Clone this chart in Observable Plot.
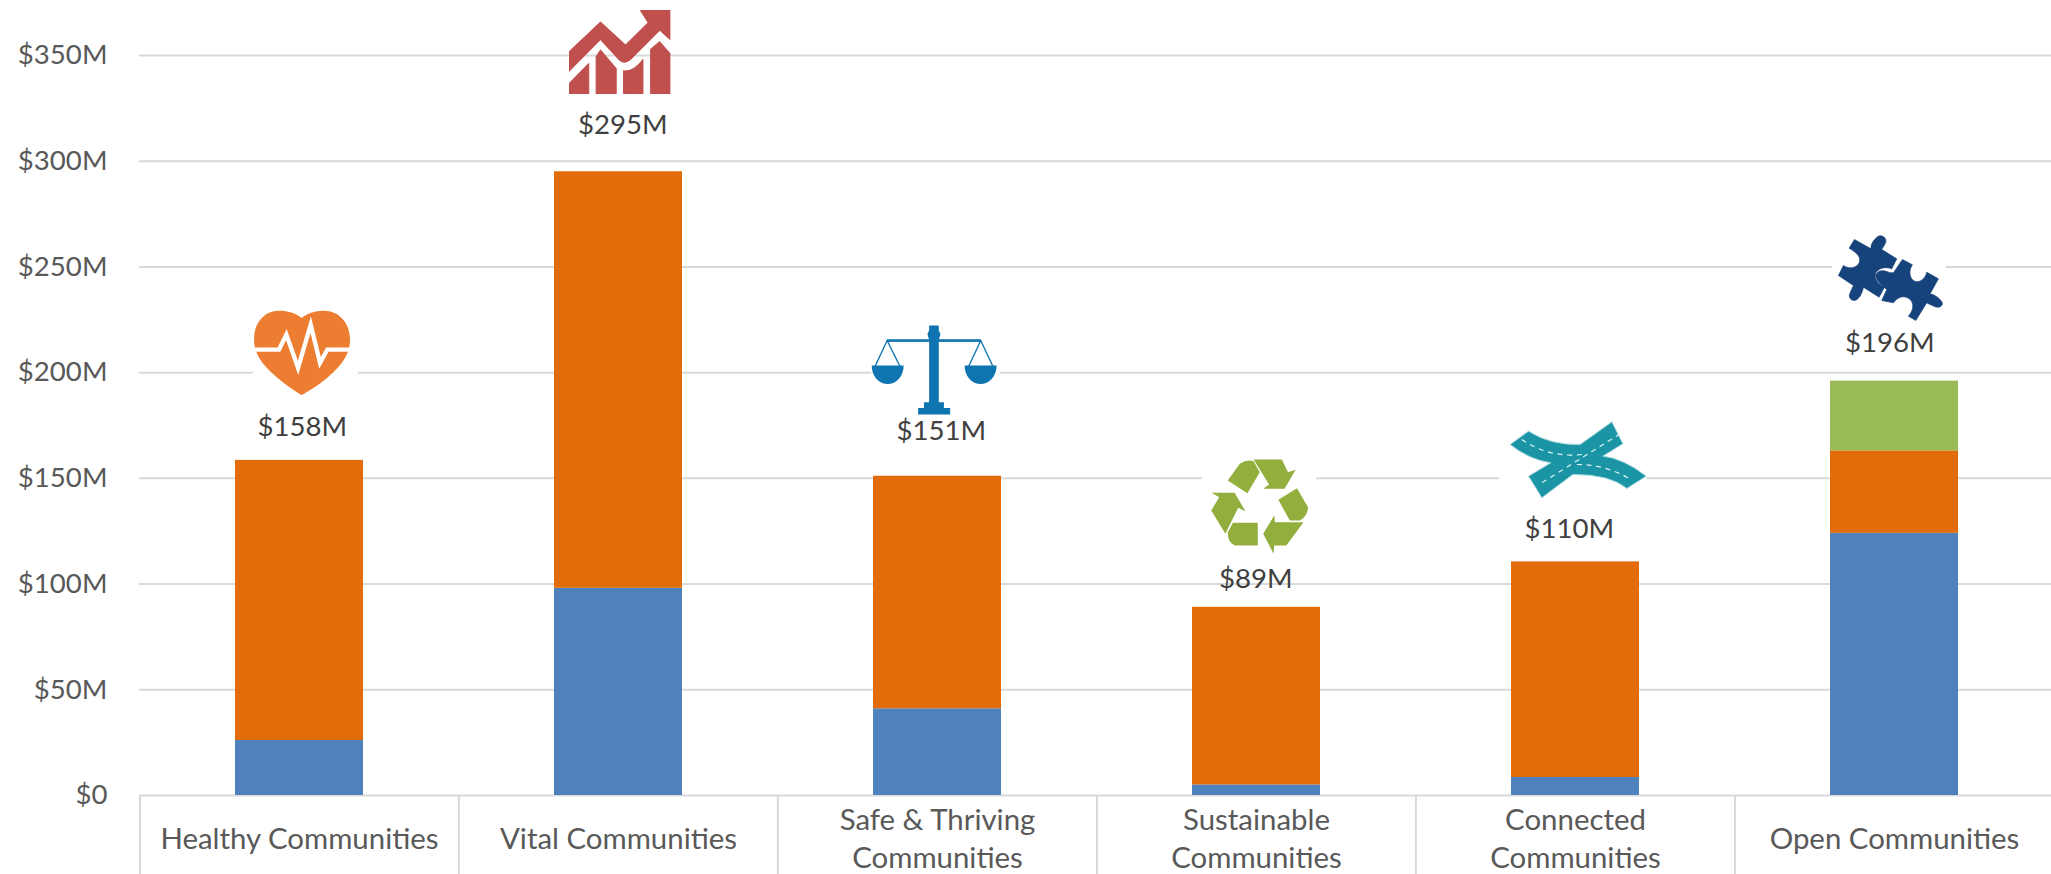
<!DOCTYPE html>
<html><head><meta charset="utf-8">
<script src="https://cdn.jsdelivr.net/npm/d3@7"></script>
<script src="https://cdn.jsdelivr.net/npm/@observablehq/plot@0.6"></script>
<style>html,body{margin:0;padding:0;background:#fff;overflow:hidden}svg{display:block}</style>
</head><body><div id="chart"></div>
<script>
const categories = ["Healthy Communities","Vital Communities","Safe & Thriving\nCommunities","Sustainable\nCommunities","Connected\nCommunities","Open Communities"];
const blueValues = [26,98,41,5,8.5,124];
const orangeValues = [132.5,197,110,84,102,39];
const greenValues = [0,0,0,0,0,33];
const totalLabels = ["$158M","$295M","$151M","$89M","$110M","$196M"];
const yTicks = [0,50,100,150,200,250,300,350];
const seriesNames = ["Series A","Series B","Series C"];
const seriesColors = ["#4f81bd","#e36c0a","#9bbb59"];

const rows = seriesNames.flatMap((s,k)=>categories.map((c,i)=>({c,s,v:[blueValues,orangeValues,greenValues][k][i]})));
const summary = categories.map((c,i)=>({c,t:blueValues[i]+orangeValues[i]+greenValues[i],label:totalLabels[i]}));

const uri = s => "data:image/svg+xml;charset=utf-8,"+encodeURIComponent(s);
const svg = (vb,w,h,body,bg=true)=>uri(`<svg xmlns="http://www.w3.org/2000/svg" width="${w}" height="${h}" viewBox="${vb}" preserveAspectRatio="none">${bg?`<rect x="-9999" y="-9999" width="29999" height="29999" fill="#fff"/>`:""}${body}</svg>`);

const icons = [
 {w:105,h:93,dx:5.7,dy:-107.5,vb:"96 915 315 280",body:`<path fill="#ed7d31" d="M243 950C225 935 200 928 175 928C130 928 100 965 100 1015C100 1065 135 1100 170 1130C200 1155 225 1172 243 1182C261 1172 290 1155 320 1130C355 1100 388 1065 388 1015C388 965 355 928 310 928C285 928 261 935 243 950Z"/><path fill="none" stroke="#fff" stroke-width="13" d="M100 1045H175L197 1000L232 1100L270 970L298 1085L320 1045H388"/>`},
 {w:102,h:85,dx:1.2,dy:-120,bg:false,vb:"40 28 305 254",body:`<g fill="#c0504d" stroke="#c0504d" stroke-width="3" stroke-linejoin="round"><path d="M41 155L135 66L210 135L278 68L255 32H343V118L312 90L225 178Q205 195 190 178L135 118L41 213Z"/><path d="M41 250L100 190V280H41Z"/><path d="M122 170L135 150L182 205V280H122Z"/><path d="M204 212Q235 215 262 178V280H204Z"/><path d="M285 148L312 125L343 160V280H285Z"/></g>`},
 {w:128.4,h:91.7,dx:-2,dy:-106.5,vb:"89 70 373 275",body:`<g fill="#0f75b1"><path d="M257 75H285V90L290 100L285 118V305H300V322H318V342H225V322H242V305H257V118L252 100L257 90Z"/><rect x="135" y="116" width="272" height="8"/><path d="M90 195H183A46 55 0 0 1 90 195Z"/><path d="M360 195H453A46 55 0 0 1 360 195Z"/></g><g fill="none" stroke="#0f75b1" stroke-width="4"><path d="M100 197L135 120L172 197"/><path d="M372 197L407 120L442 197"/></g>`},
 {w:114.3,h:98.3,dx:2.6,dy:-101,vb:"1050 470 332 295",body:`<g fill="#92ae3c"><path d="M1125 540L1160 490Q1180 475 1200 482L1218 515L1182 578Z"/><path d="M1200 477H1282L1300 515L1322 508L1290 565H1228L1245 552Z"/><path d="M1272 598L1326 563L1358 620Q1358 645 1335 660H1305Z"/><path d="M1345 665L1295 735H1260L1258 760L1228 700L1260 645L1262 665Z"/><path d="M1212 667V735H1145Q1125 725 1125 695L1140 667Z"/><path d="M1078 577H1145L1176 632L1155 622L1118 700L1077 630L1100 590Z"/></g>`},
 {w:147,h:83.3,dx:-2.8,dy:-102.4,vb:"-3 10 441 250",body:`<path fill="#1b95a5" stroke="#a8d8de" stroke-width="3" stroke-linejoin="round" d="M30 90L85 50Q150 92 240 90L335 22L368 88L308 125Q370 132 438 185L380 222Q330 180 218 180L125 250L85 185L152 145Q85 135 30 90Z"/><g fill="none" stroke="#dff3f5" stroke-width="3.5" stroke-dasharray="15 14"><path d="M65 75Q130 120 210 122Q240 122 255 118"/><path d="M360 58L125 205"/><path d="M230 150Q320 150 395 197"/></g>`},
 {w:114,h:93.3,dx:-5.4,dy:-105.6,vb:"21 10 342 280",body:`<g fill="#17437c" stroke="#17437c" stroke-width="2" stroke-linejoin="round"><path d="M88 42L138 70C135 55 150 38 160 32C175 27 188 42 180 55C176 62 172 68 170 72L215 100L200 130C185 124 165 125 153 140C145 155 155 175 178 185L162 215L115 185C112 200 105 218 92 224C78 228 68 215 75 202C78 195 82 187 85 180L40 150L55 120C72 132 95 128 103 110C108 92 92 80 72 68Z"/><path d="M232 102L262 118C250 135 252 160 270 168C288 172 302 155 305 140L340 160L315 205C330 208 350 222 352 235C350 247 335 248 322 240C316 238 310 235 305 232L272 285L250 272C262 258 268 240 258 225C245 210 222 208 205 232L170 225L185 192C170 180 152 165 152 150C155 135 172 132 190 140C195 142 200 142 205 142Z"/></g>`}
];
const labelOffsets = [[2.7,-33],[4.2,-47],[3.8,-45],[-0.8,-28],[-6.3,-33],[-4.7,-38]];

const bandStep = (2054-139)/6;
const font = "Lato, 'Open Sans', sans-serif";

const plot = Plot.plot({
  width:2051,height:874,
  marginLeft:139,marginRight:-3,marginTop:55,marginBottom:79,
  style:{fontFamily:font,background:"#fff"},
  x:{domain:categories,paddingInner:0.6,paddingOuter:0.3,axis:null},
  y:{domain:[0,350],axis:null},
  color:{domain:seriesNames,range:seriesColors},
  marks:[
    Plot.ruleY(yTicks,{stroke:"#d9d9d9",strokeWidth:2}),
    Plot.axisY({ticks:yTicks,tickSize:0,tickPadding:32,anchor:"left",label:null,
      tickFormat:d=>d===0?"$0":`$${d}M`,fontSize:27.6,fill:"#595959"}),
    Plot.ruleX(categories,{x:d=>d,y1:0,y2:-60,dx:-bandStep/2,stroke:"#d9d9d9",strokeWidth:2}),
    Plot.barY(rows,Plot.stackY({x:"c",y:"v",fill:"s",order:null})),
    Plot.text(categories,{x:d=>d,y:()=>0,text:d=>d,dy:41,fontSize:29.4,fill:"#595959",lineHeight:1.29,lineAnchor:"middle",textAnchor:"middle"}),
    ...icons.map((ic,i)=>Plot.image([summary[i]],{x:"c",y:"t",dx:ic.dx,dy:ic.dy,width:ic.w,height:ic.h,preserveAspectRatio:"none",
      src:()=>svg(ic.vb,ic.w,ic.h,ic.body,ic.bg!==false)})),
    ...summary.map((s,i)=>Plot.text([s],{x:"c",y:"t",text:"label",dx:labelOffsets[i][0],dy:labelOffsets[i][1],fontSize:27.6,fill:"#404040",lineAnchor:"middle"}))
  ]
});
document.getElementById("chart").append(plot);
</script></body></html>
